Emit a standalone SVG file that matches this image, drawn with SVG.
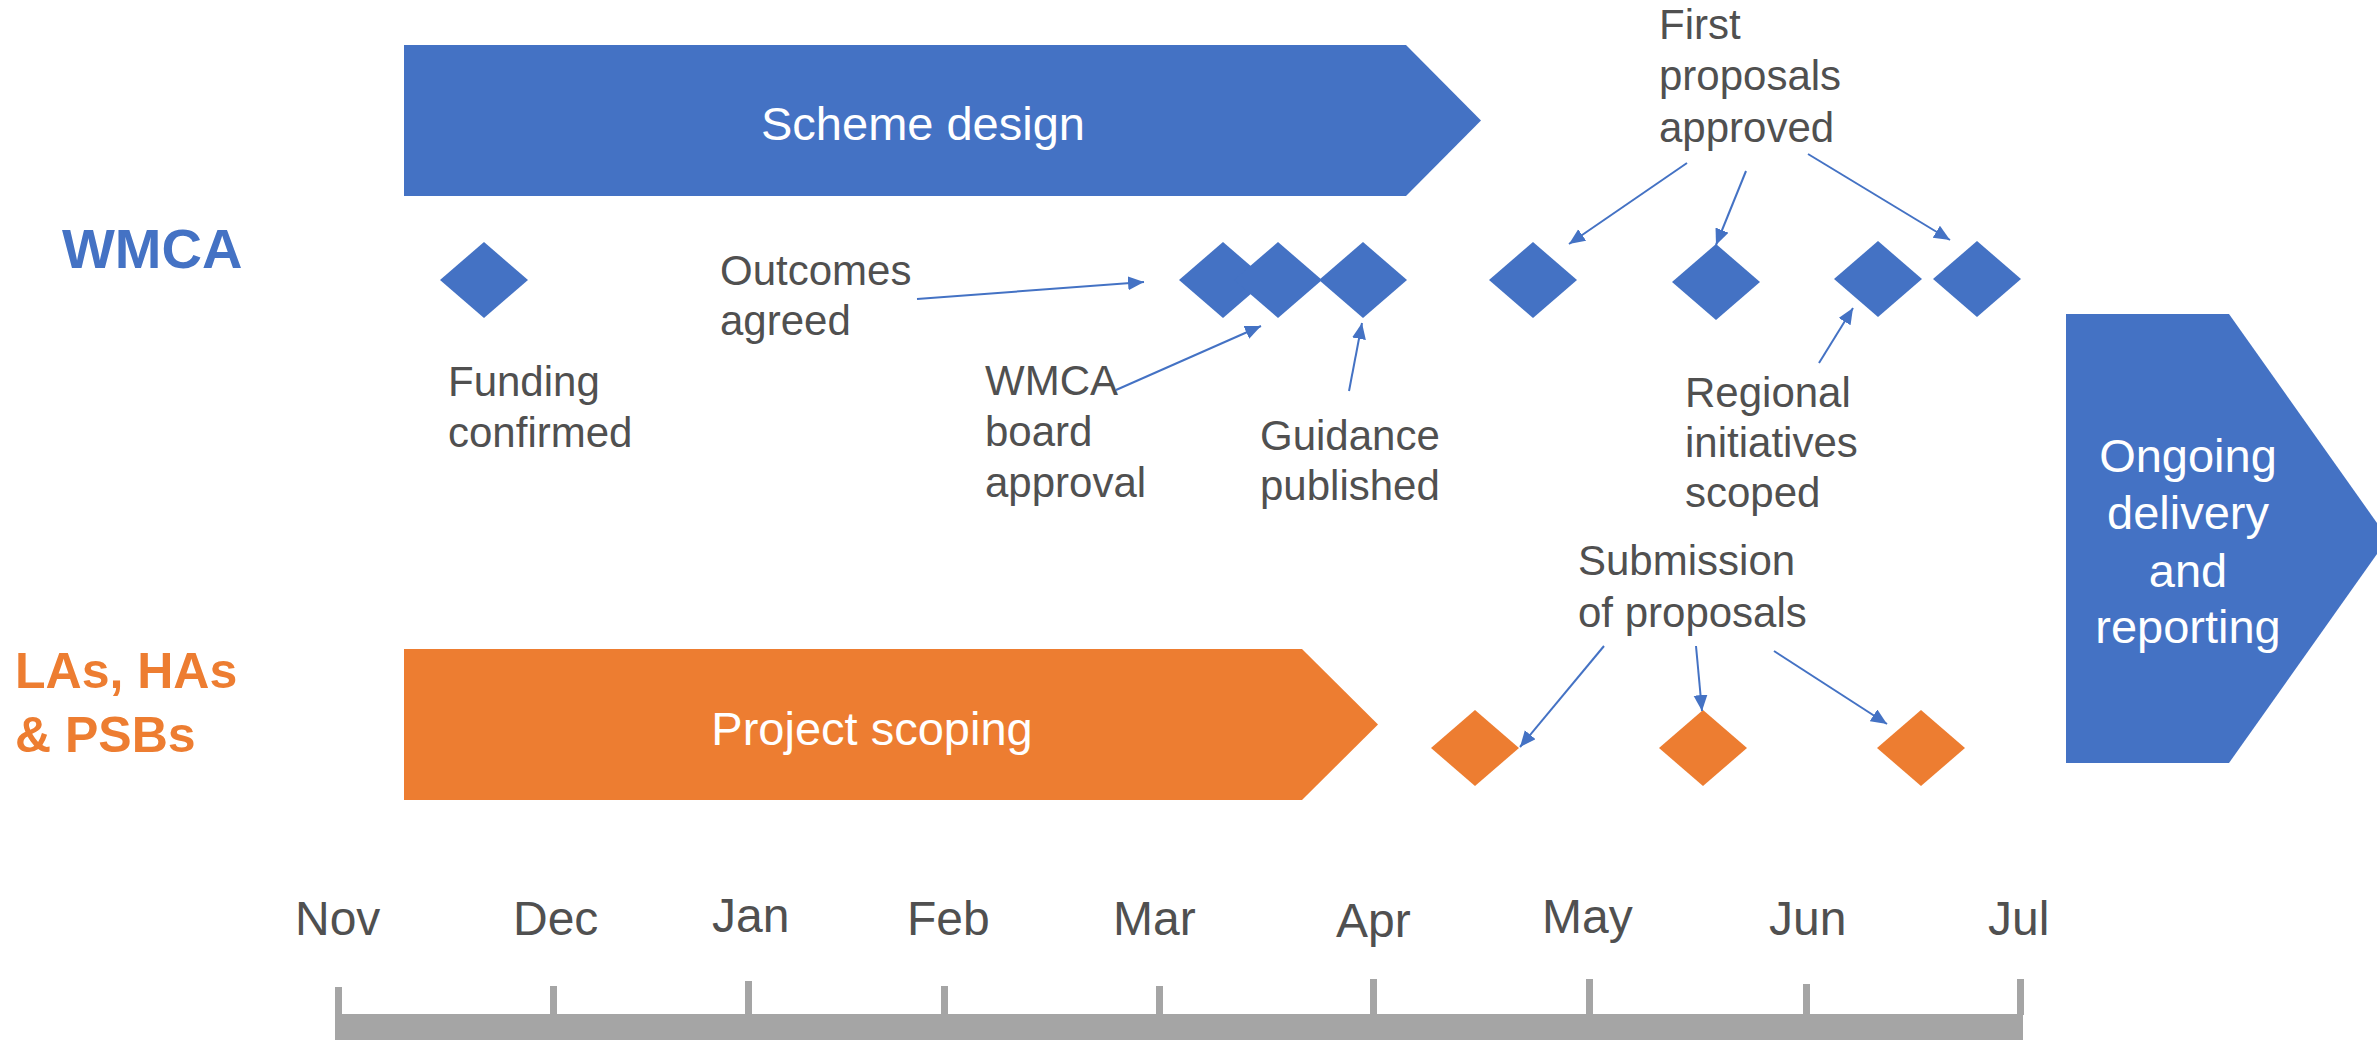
<svg xmlns="http://www.w3.org/2000/svg" width="2377" height="1040" viewBox="0 0 2377 1040">
<defs>
<style>
.lbl{font-family:"Liberation Sans",Arial,sans-serif;font-size:42px;fill:#505050}
.mon{font-family:"Liberation Sans",Arial,sans-serif;font-size:48px;fill:#505050}
.bar{font-family:"Liberation Sans",Arial,sans-serif;font-size:47px;fill:#ffffff;text-anchor:middle}
.blue{fill:#4472C4}
.orange{fill:#ED7D31}
.axis{fill:#A5A5A5}
.conn{stroke:#4472C4;stroke-width:2;fill:none;marker-end:url(#ah)}
</style>
<marker id="ah" markerUnits="userSpaceOnUse" markerWidth="17" markerHeight="15" refX="16" refY="7" orient="auto">
<path d="M0,0 L16,7 L0,14 z" fill="#4472C4"/>
</marker>
</defs>
<rect width="2377" height="1040" fill="#ffffff"/>

<g id="lane-wmca"><text x="62" y="268" font-family="Liberation Sans, Arial, sans-serif" font-size="56" font-weight="bold" fill="#4472C4">WMCA</text></g>
<g id="lane-las"><text font-family="Liberation Sans, Arial, sans-serif" font-size="50" font-weight="bold" fill="#ED7D31"><tspan x="15" y="688">LAs, HAs</tspan><tspan x="15" y="752">&amp; PSBs</tspan></text></g>

<g id="scheme-design">
<polygon class="blue" points="404,45 1406,45 1481,120.5 1406,196 404,196"/>
<text class="bar" x="923" y="140">Scheme design</text>
</g>
<g id="project-scoping">
<polygon class="orange" points="404,649 1302,649 1378,724.5 1302,800 404,800"/>
<text class="bar" x="872" y="745">Project scoping</text>
</g>
<g id="ongoing-delivery">
<polygon class="blue" points="2066,314 2229,314 2388,538.5 2229,763 2066,763"/>
<text class="bar" font-size="48"><tspan x="2188" y="472">Ongoing</tspan><tspan x="2188" y="529">delivery</tspan><tspan x="2188" y="587">and</tspan><tspan x="2188" y="643">reporting</tspan></text>
</g>

<g id="m-funding"><polygon class="blue" points="440,280 484,242 528,280 484,318"/>
<text class="lbl"><tspan x="448" y="396">Funding</tspan><tspan x="448" y="447">confirmed</tspan></text></g>
<g id="m-outcomes"><polygon class="blue" points="1179,280 1223,242 1267,280 1223,318"/>
<text class="lbl"><tspan x="720" y="285">Outcomes</tspan><tspan x="720" y="335">agreed</tspan></text></g>
<g id="m-board"><polygon class="blue" points="1234,280 1278,242 1322,280 1278,318"/>
<text class="lbl"><tspan x="985" y="395">WMCA</tspan><tspan x="985" y="446">board</tspan><tspan x="985" y="497">approval</tspan></text></g>
<g id="m-guidance"><polygon class="blue" points="1319,280 1363,242 1407,280 1363,318"/>
<text class="lbl"><tspan x="1260" y="450">Guidance</tspan><tspan x="1260" y="500">published</tspan></text></g>
<g id="m-approved-1"><polygon class="blue" points="1489,280 1533,242 1577,280 1533,318"/></g>
<g id="m-approved-2"><polygon class="blue" points="1672,282 1716,244 1760,282 1716,320"/></g>
<g id="m-regional"><polygon class="blue" points="1834,279 1878,241 1922,279 1878,317"/>
<text class="lbl"><tspan x="1685" y="407">Regional</tspan><tspan x="1685" y="457">initiatives</tspan><tspan x="1685" y="507">scoped</tspan></text></g>
<g id="m-approved-3"><polygon class="blue" points="1933,279 1977,241 2021,279 1977,317"/></g>
<g id="first-proposals-label"><text class="lbl"><tspan x="1659" y="39">First</tspan><tspan x="1659" y="90">proposals</tspan><tspan x="1659" y="142">approved</tspan></text></g>

<g id="m-sub-1"><polygon class="orange" points="1431,748 1475,710 1519,748 1475,786"/></g>
<g id="m-sub-2"><polygon class="orange" points="1659,748 1703,710 1747,748 1703,786"/></g>
<g id="m-sub-3"><polygon class="orange" points="1877,748 1921,710 1965,748 1921,786"/></g>
<g id="submission-label"><text class="lbl"><tspan x="1578" y="575">Submission</tspan><tspan x="1578" y="627">of proposals</tspan></text></g>

<g id="connectors">
<line class="conn" x1="917" y1="299" x2="1144" y2="282"/>
<line class="conn" x1="1116" y1="390" x2="1261" y2="326"/>
<line class="conn" x1="1349" y1="391" x2="1362" y2="323"/>
<line class="conn" x1="1687" y1="163" x2="1569" y2="244"/>
<line class="conn" x1="1746" y1="171" x2="1716" y2="245"/>
<line class="conn" x1="1808" y1="154" x2="1950" y2="240"/>
<line class="conn" x1="1819" y1="363" x2="1853" y2="308"/>
<line class="conn" x1="1604" y1="646" x2="1520" y2="747"/>
<line class="conn" x1="1696" y1="646" x2="1702" y2="711"/>
<line class="conn" x1="1774" y1="651" x2="1887" y2="724"/>
</g>

<g id="timeline">
<rect class="axis" x="335" y="1014" width="1688" height="26"/>
<rect class="axis" x="335" y="987" width="7" height="28"/>
<rect class="axis" x="550" y="986" width="7" height="29"/>
<rect class="axis" x="745" y="981" width="7" height="34"/>
<rect class="axis" x="941" y="986" width="7" height="29"/>
<rect class="axis" x="1156" y="986" width="7" height="29"/>
<rect class="axis" x="1370" y="979" width="7" height="36"/>
<rect class="axis" x="1586" y="979" width="7" height="36"/>
<rect class="axis" x="1803" y="984" width="7" height="31"/>
<rect class="axis" x="2017" y="979" width="7" height="36"/>
<text class="mon" x="295" y="935">Nov</text>
<text class="mon" x="513" y="935">Dec</text>
<text class="mon" x="712" y="932">Jan</text>
<text class="mon" x="907" y="935">Feb</text>
<text class="mon" x="1113" y="935">Mar</text>
<text class="mon" x="1336" y="937">Apr</text>
<text class="mon" x="1542" y="933">May</text>
<text class="mon" x="1769" y="935">Jun</text>
<text class="mon" x="1988" y="935">Jul</text>
</g>
</svg>
